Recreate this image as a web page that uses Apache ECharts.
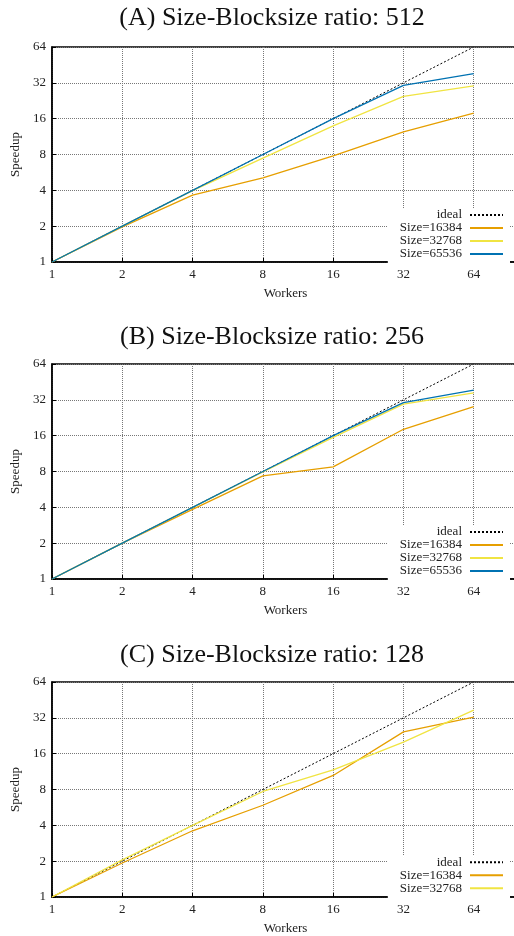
<!DOCTYPE html>
<html>
<head>
<meta charset="utf-8">
<script src="https://cdn.jsdelivr.net/npm/echarts@6/dist/echarts.min.js"></script>
<style>
  html, body { margin: 0; padding: 0; background: #fff; overflow: hidden; }
  #chart { width: 514px; height: 936px; }
</style>
</head>
<body>
<div id="chart"></div>
<script>
var workers = [1, 2, 4, 8, 16, 32, 64];
var ideal = [1, 2, 4, 8, 16, 32, 64];

var a16384 = [1, 1.97, 3.65, 5.1, 7.8, 12.4, 17.8];
var a32768 = [1, 2, 3.98, 7.45, 13.9, 24.6, 30.2];
var a65536 = [1, 2, 4, 8, 16, 30.5, 38.3];

var b16384 = [1, 2, 3.85, 7.35, 8.75, 18.1, 28.1];
var b32768 = [1, 2, 4, 7.95, 15.5, 29.5, 36.6];
var b65536 = [1, 2, 4, 8, 16, 30.3, 38.6];

var c16384 = [1, 1.93, 3.6, 5.9, 10.5, 24.4, 32.4];
var c32768 = [1, 2.05, 4, 7.7, 11.7, 20, 37.2];

var titles = ['(A) Size-Blocksize ratio: 512', '(B) Size-Blocksize ratio: 256', '(C) Size-Blocksize ratio: 128'];
var panelTops = [47, 364, 682];
var titleTops = [5, 324, 642];

var FONT = 'Liberation Serif';
var colOrange = '#E69F00', colYellow = '#F0E442', colBlue = '#0072B2';

function pairs(ys) {
	var out = [];
	for (var i = 0; i < workers.length; i++) out.push([workers[i], ys[i]]);
	return out;
}

function pow2Label(v) {
	var l = Math.log(v) / Math.LN2;
	return Math.abs(l - Math.round(l)) < 1e-6 ? String(Math.round(v)) : '';
}

var panels = [
	[['ideal', ideal], ['Size=16384', a16384], ['Size=32768', a32768], ['Size=65536', a65536]],
	[['ideal', ideal], ['Size=16384', b16384], ['Size=32768', b32768], ['Size=65536', b65536]],
	[['ideal', ideal], ['Size=16384', c16384], ['Size=32768', c32768]]
];
var colorOf = { 'ideal': '#000', 'Size=16384': colOrange, 'Size=32768': colYellow, 'Size=65536': colBlue };

var option = {
	animation: false,
	backgroundColor: '#fff',
	title: [], grid: [], xAxis: [], yAxis: [], legend: [], series: []
};

panels.forEach(function (p, k) {
	option.title.push({
		text: titles[k],
		left: 272, top: titleTops[k],
		textAlign: 'center',
		padding: 0,
		textStyle: { fontFamily: FONT, fontSize: 26, fontWeight: 'normal', color: '#111' }
	});
	option.grid.push({
		left: 52, top: panelTops[k], width: 467, height: 215,
		outerBoundsMode: 'none', containLabel: false,
		show: true, borderColor: '#000', borderWidth: 1.5
	});
	option.xAxis.push({
		type: 'log', logBase: 2, min: 1, max: 100, gridIndex: k,
		name: 'Workers', nameLocation: 'middle', nameGap: 25,
		nameTextStyle: { fontFamily: FONT, fontSize: 13, color: '#222' },
		axisLine: { lineStyle: { color: '#000', width: 1.5 } },
		axisTick: { inside: true, length: 4, lineStyle: { color: '#000' } },
		minorTick: { show: false },
		axisLabel: { fontFamily: FONT, fontSize: 13, color: '#222', margin: 6, formatter: pow2Label, showMaxLabel: false },
		splitLine: { show: true, lineStyle: { color: '#777', type: 'dotted', width: 1 } }
	});
	option.yAxis.push({
		type: 'log', logBase: 2, min: 1, max: 64, gridIndex: k,
		name: 'Speedup', nameLocation: 'middle', nameGap: 29, nameRotate: 90,
		nameTextStyle: { fontFamily: FONT, fontSize: 13, color: '#222' },
		axisLine: { lineStyle: { color: '#000', width: 1.5 } },
		axisTick: { inside: true, length: 4, lineStyle: { color: '#000' } },
		axisLabel: { fontFamily: FONT, fontSize: 13, color: '#222', margin: 6, formatter: pow2Label },
		splitLine: { show: true, lineStyle: { color: '#777', type: 'dotted', width: 1 } }
	});
	var names = p.map(function (s) { return s[0]; });
	var rowH = 12.4;
	option.legend.push({
		data: names,
		orient: 'vertical', align: 'right',
		right: 4,
		top: panelTops[k] + 215 - names.length * rowH - 4,
		padding: [0, 6, 4, 12],
		itemGap: 0, itemWidth: 33, itemHeight: 8,
		backgroundColor: '#fff',
		selectedMode: false,
		itemStyle: { color: 'transparent', borderColor: 'transparent', borderWidth: 0 },
		textStyle: { fontFamily: FONT, fontSize: 13, color: '#222', lineHeight: rowH, padding: [0, 3, 0, 0] }
	});
	p.forEach(function (s) {
		var isIdeal = s[0] === 'ideal';
		option.series.push({
			name: s[0], type: 'line', xAxisIndex: k, yAxisIndex: k,
			data: pairs(s[1]),
			symbol: 'none',
			lineStyle: { color: colorOf[s[0]], width: isIdeal ? 1 : 1.3, type: isIdeal ? [2, 2] : 'solid' },
			itemStyle: { color: colorOf[s[0]] },
			z: isIdeal ? 2 : 3
		});
	});
});

var myChart = echarts.init(document.getElementById('chart'));
myChart.setOption(option);
</script>
</body>
</html>
